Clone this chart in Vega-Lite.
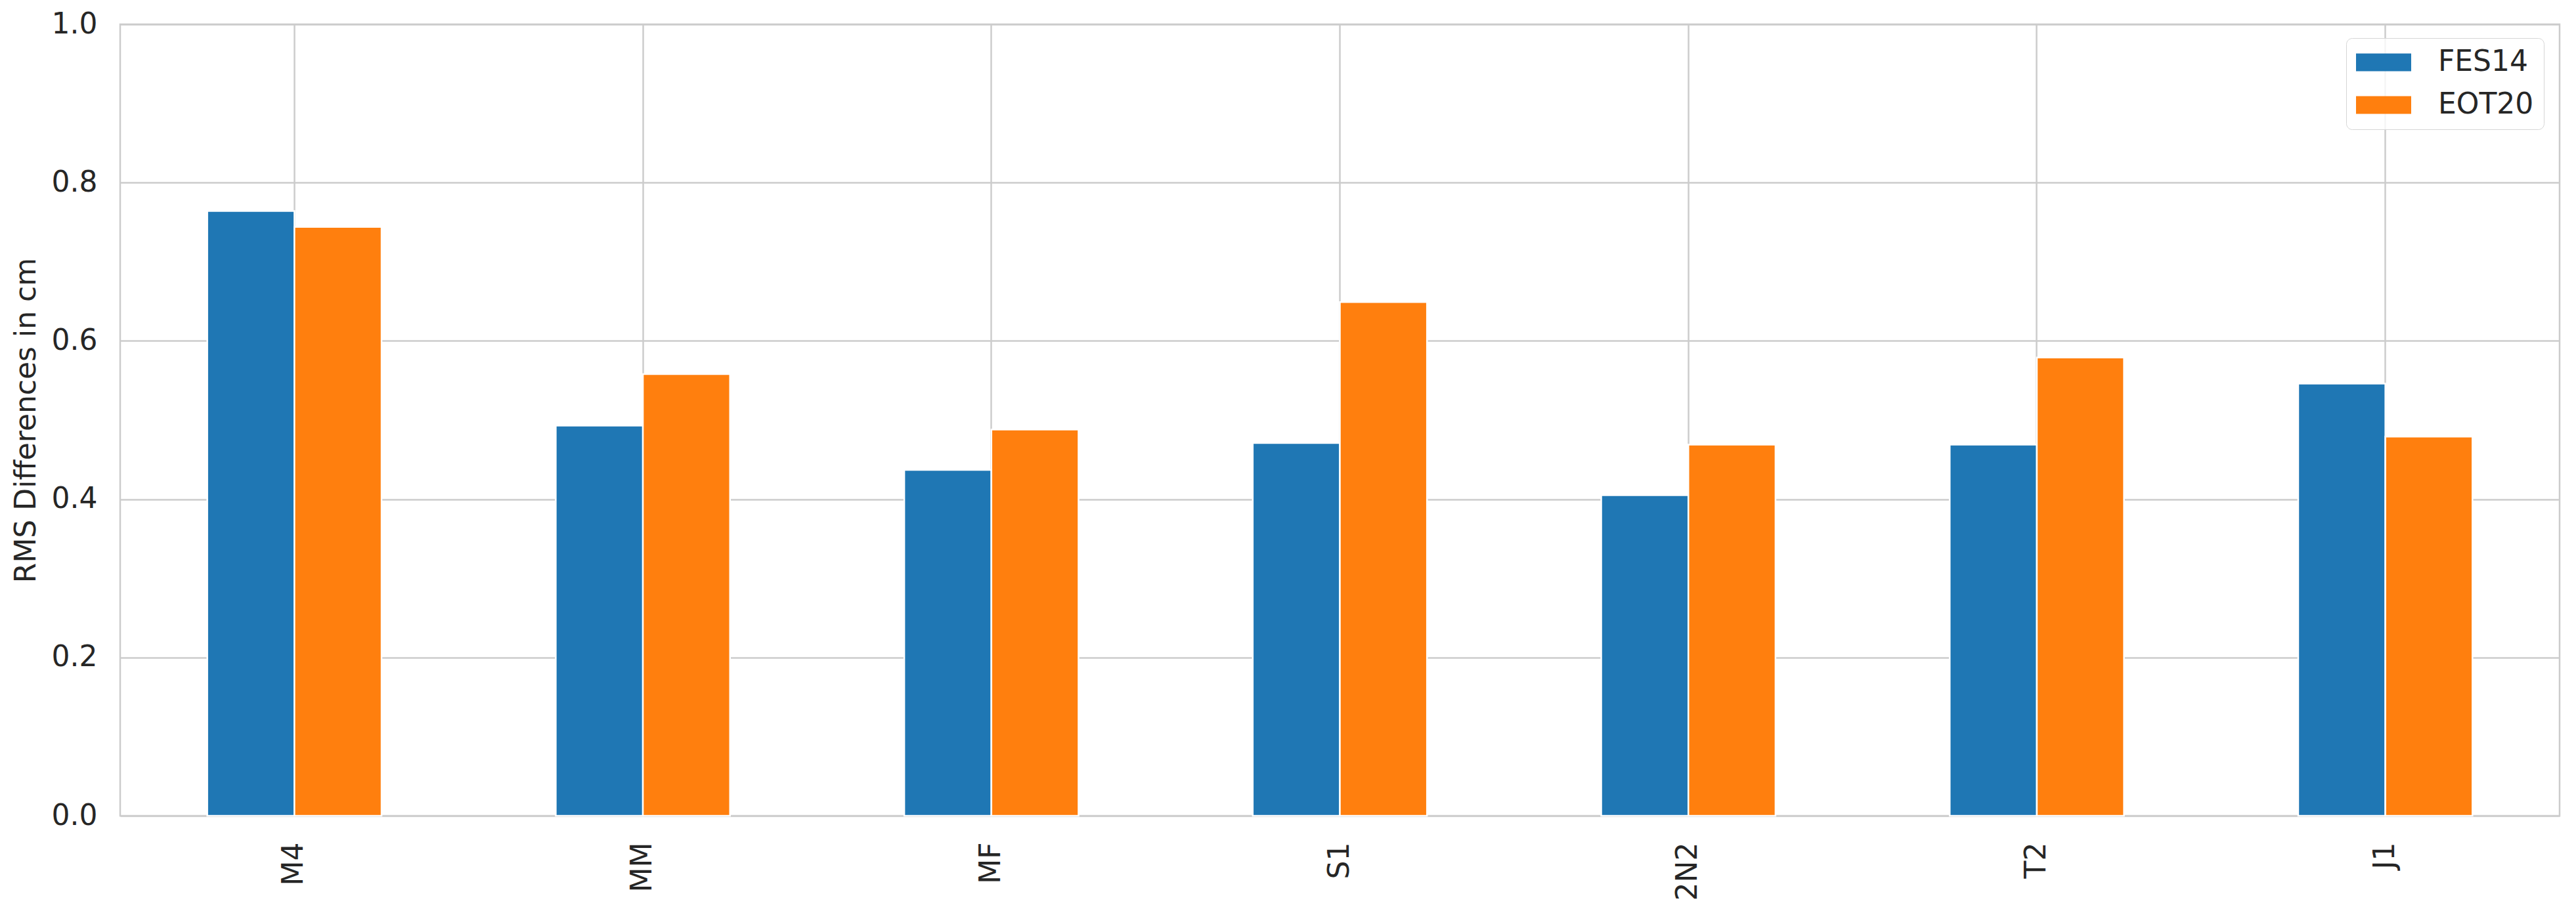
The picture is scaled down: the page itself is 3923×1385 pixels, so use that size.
{
  "$schema": "https://vega.github.io/schema/vega-lite/v6.json",
  "autosize": {"type": "none"},
  "padding": {"left": 183, "top": 37, "right": 25, "bottom": 142},
  "width": 3715,
  "height": 1206,
  "background": "white",
  "data": {
    "values": [
      {"constituent": "M4", "model": "FES14", "rms": 0.764},
      {"constituent": "M4", "model": "EOT20", "rms": 0.744},
      {"constituent": "MM", "model": "FES14", "rms": 0.493},
      {"constituent": "MM", "model": "EOT20", "rms": 0.558},
      {"constituent": "MF", "model": "FES14", "rms": 0.437},
      {"constituent": "MF", "model": "EOT20", "rms": 0.488},
      {"constituent": "S1", "model": "FES14", "rms": 0.471},
      {"constituent": "S1", "model": "EOT20", "rms": 0.649},
      {"constituent": "2N2", "model": "FES14", "rms": 0.405},
      {"constituent": "2N2", "model": "EOT20", "rms": 0.469},
      {"constituent": "T2", "model": "FES14", "rms": 0.469},
      {"constituent": "T2", "model": "EOT20", "rms": 0.579},
      {"constituent": "J1", "model": "FES14", "rms": 0.546},
      {"constituent": "J1", "model": "EOT20", "rms": 0.479}
    ]
  },
  "mark": {"type": "bar", "stroke": "white", "strokeWidth": 2.5, "cornerRadius": 0},
  "encoding": {
    "x": {
      "field": "constituent",
      "type": "nominal",
      "sort": ["M4", "MM", "MF", "S1", "2N2", "T2", "J1"],
      "scale": {"paddingInner": 0.5, "paddingOuter": 0.25},
      "axis": {
        "title": null,
        "labelAngle": -90,
        "labelFontSize": 44,
        "labelFont": "DejaVu Sans",
        "labelColor": "#262626",
        "labelPadding": 40,
        "ticks": false,
        "tickSize": 0,
        "domain": false,
        "grid": true,
        "gridColor": "#cccccc",
        "gridWidth": 2.5,
        "bandPosition": 0.5
      }
    },
    "xOffset": {
      "field": "model",
      "type": "nominal",
      "sort": ["FES14", "EOT20"],
      "scale": {"domain": ["FES14", "EOT20"], "paddingInner": 0, "paddingOuter": 0}
    },
    "y": {
      "field": "rms",
      "type": "quantitative",
      "scale": {"domain": [0, 1], "nice": false},
      "axis": {
        "title": "RMS Differences in cm",
        "titleFontSize": 44,
        "titleFont": "DejaVu Sans",
        "titleFontWeight": "normal",
        "titleColor": "#262626",
        "titleX": -130,
        "titleY": 603,
        "titleAngle": -90,
        "titleAlign": "center",
        "titleBaseline": "alphabetic",
        "values": [0, 0.2, 0.4, 0.6, 0.8, 1.0],
        "format": ".1f",
        "labelFontSize": 44,
        "labelFont": "DejaVu Sans",
        "labelColor": "#262626",
        "labelPadding": 35,
        "ticks": false,
        "tickSize": 0,
        "domain": false,
        "grid": true,
        "gridColor": "#cccccc",
        "gridWidth": 2.5
      }
    },
    "color": {
      "field": "model",
      "type": "nominal",
      "scale": {"domain": ["FES14", "EOT20"], "range": ["#1f77b4", "#ff7f0e"]},
      "legend": {
        "title": null,
        "orient": "none",
        "legendX": 3390,
        "legendY": 21,
        "padding": 15,
        "symbolType": "M-1,-0.614H2.818V0.614H-1Z",
        "symbolSize": 1936,
        "symbolStrokeWidth": 0,
        "labelFontSize": 44,
        "labelFont": "DejaVu Sans",
        "labelColor": "#262626",
        "labelOffset": 81,
        "rowPadding": 21,
        "strokeColor": "#d6d6d6",
        "cornerRadius": 9,
        "fillColor": "rgba(255,255,255,0.8)",
        "encode": {"legend": {"update": {"strokeWidth": {"value": 2.5}}}}
      }
    }
  },
  "config": {
    "view": {"stroke": "#cccccc", "strokeWidth": 2.5},
    "font": "DejaVu Sans"
  }
}
